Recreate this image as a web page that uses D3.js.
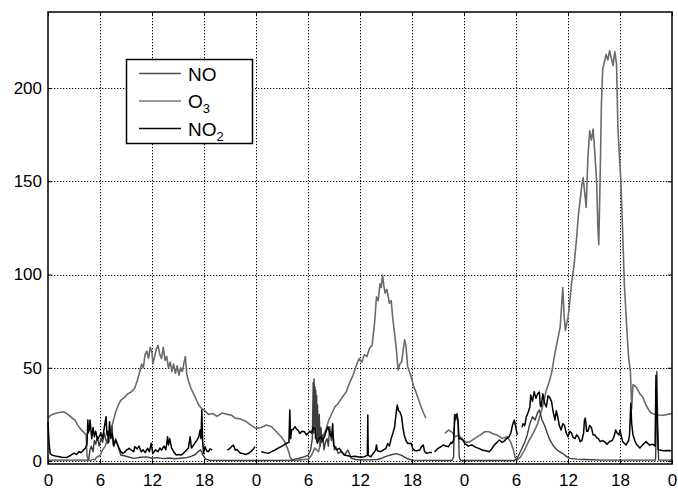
<!DOCTYPE html>
<html>
<head>
<meta charset="utf-8">
<script src="https://cdn.jsdelivr.net/npm/d3@7"></script>
<style>
  body { margin: 0; background: #fff; }
  svg { display: block; }
  text { font-family: "Liberation Sans", Arial, Helvetica, sans-serif; fill: #000; }
</style>
</head>
<body>
<svg id="chart" width="678" height="489"></svg>
<script>
// Hours since start of the three-day record; tick labels show the hour of day.
const xTicks = [0, 6, 12, 18, 24, 30, 36, 42, 48, 54, 60, 66, 72];
const xTickLabels = ["0", "6", "12", "18", "0", "6", "12", "18", "0", "6", "12", "18", "0"];
const yTicks = [0, 50, 100, 150, 200];
const seriesNames = ["NO", "O3", "NO2"];

// [hour, concentration]; null marks missing data.
const o3 = [
  [0,23],[0.3,24.5],[0.8,25.5],[1.3,26],[1.8,26.4],[2.3,25],[2.8,23],[3.1,22],[3.4,19.5],[3.7,17.5],
  [4.1,15.5],[4.4,14],[4.5,3],[4.65,0.5],[4.9,0.3],[5.2,1],[5.4,0.5],[5.6,2],[6.0,3],[6.3,6],
  [6.6,8],[6.9,12],[7.2,15],[7.5,21],[7.8,26],[8.1,30],[8.4,32.5],[8.8,34],[9.2,36],[9.6,37],
  [10.0,39],[10.3,43],[10.6,48],[10.8,52],[11.0,50],[11.2,57],[11.4,59],[11.6,55],[11.8,61],[12.0,58],
  [12.1,52],[12.3,56],[12.5,60],[12.7,62],[12.9,57],[13.1,55],[13.3,61],[13.5,54],[13.7,56],[13.9,50],
  [14.1,53],[14.3,48],[14.5,52],[14.7,47],[14.9,51],[15.1,46],[15.3,50],[15.5,48],[15.7,53],[15.85,56],
  [16.0,47],[16.2,43],[16.5,39],[16.8,36],[17.1,33],[17.4,30],[17.75,28],[18.1,27],[18.5,25],[19.0,25.5],
  [19.5,24],[20.1,25.7],[20.7,25],[21.2,24.5],[21.6,23],[22.2,22.5],[22.9,21],[23.5,19],[24.0,17.5],[24.6,18],
  [25.2,19.3],[25.8,18.4],[26.35,15.7],[26.9,13],[27.3,10.5],[27.7,6],[27.95,2],[28.2,0.5],[28.6,0.3],[29.0,0.5],
  [29.5,0.8],[30.0,1],[30.4,3],[30.8,7],[31.2,5],[31.6,12],[32.0,16],[32.4,22],[32.8,26],[33.1,29],
  [33.5,31],[34.0,34.5],[34.4,37],[34.8,42],[35.2,46],[35.6,51.5],[35.9,55],[36.2,53],[36.5,57],[36.8,56],
  [37.1,60.5],[37.4,62],[37.7,75],[37.9,88],[38.1,86],[38.3,95],[38.45,93],[38.6,99.7],[38.75,94],[38.9,90],
  [39.1,92],[39.4,84.6],[39.6,86],[39.8,75.6],[40.0,68],[40.2,59.5],[40.4,48.8],[40.6,52],[40.8,53],[41.0,60],
  [41.15,65],[41.3,62],[41.5,50.5],[41.7,48],[41.9,45],[42.2,40],[42.5,36.4],[42.9,31],[43.3,26],[43.6,23],
  [43.65,null],
  [45.8,14.8],[46.2,16.6],[46.6,15.5],[47.0,13],[47.4,14],[47.9,11.3],[48.3,10],[48.7,10.4],[49.3,12.3],[49.9,14],
  [50.4,15.7],[50.9,15.7],[51.4,14.5],[51.8,14],[52.4,12.1],[53.0,13],[53.4,10],[53.7,6],[53.9,2],[54.1,0.5],
  [54.5,2],[55.0,6],[55.5,11],[56.0,15],[56.5,20],[57.0,28],[57.5,38],[57.8,42],[58.1,47],[58.5,58],
  [58.8,65],[59.1,72],[59.4,93],[59.55,78],[59.7,70],[60.0,77],[60.2,85],[60.4,95],[60.7,105],[61.0,120],
  [61.2,132],[61.4,140],[61.6,148],[61.75,152],[61.9,145],[62.1,136],[62.2,150],[62.3,163],[62.5,177],[62.7,172],
  [62.9,178],[63.1,165],[63.3,150],[63.45,125],[63.55,116],[63.7,150],[63.85,190],[64.0,210],[64.2,214],[64.4,218],
  [64.6,215],[64.8,220],[65.0,216],[65.2,212],[65.4,219.5],[65.6,213],[65.75,180],[65.9,166],[66.1,150],[66.3,124],
  [66.5,95],[66.8,70],[67.0,55],[67.2,48],[67.35,28],[67.5,41],[67.9,39.5],[68.3,36],[68.6,34.5],[69.0,30],
  [69.5,26],[70.0,25],[70.5,24.7],[71.0,24.5],[71.5,25],[72.0,25.5]
];

const no = [
  [0,0.5],[4.5,0.5],[4.7,1],[4.85,6],[5.0,8],[5.2,5],[5.35,11],[5.5,9],[5.7,13],[5.9,8],
  [6.1,12],[6.3,10],[6.5,15],[6.7,11],[6.9,9.5],[7.1,16],[7.25,13.9],[7.4,19],[7.5,9],[7.6,7.7],
  [7.8,12],[8.0,9.5],[8.2,6],[8.4,3.2],[8.8,2.8],[9.2,2.3],[9.9,1.4],[10.7,2],[11.4,2.2],[12,1.5],
  [12.6,1.8],[13.3,1.3],[14,1.6],[14.6,1.2],[15.3,1.5],[16,1.8],[16.5,2.5],[17,3.5],[17.3,5],[17.6,6],
  [17.9,3],[18.2,1],[18.6,0.4],[24,0.3],[28,0.4],[28.5,1],[29,1.5],[29.5,2.2],[30,3],[30.3,6],
  [30.5,12],[30.6,42],[30.65,15],[30.7,44],[30.75,20],[30.8,40],[30.85,12],[30.9,38],[30.95,18],[31,35],
  [31.05,10],[31.1,30],[31.2,12],[31.3,25],[31.4,8],[31.5,18],[31.6,10],[31.7,14],[31.85,6],[32,10],
  [32.2,12],[32.35,8],[32.5,18.4],[32.7,11],[32.9,14],[33.05,6],[33.2,7.7],[33.5,4],[33.8,5],[34.2,3.2],
  [34.6,5.9],[35,1.4],[35.5,0.8],[36,0.7],[37,0.6],[38,0.8],[38.5,1.5],[39,2.5],[39.5,3.2],[40.2,4],
  [40.8,3],[41.5,1.2],[42,0.5],[46.6,0.3],[46.8,2],[46.9,25],[47.05,22],[47.2,25.5],[47.35,20],[47.45,2],
  [47.6,0.3],[53.8,0.3],[54.1,1],[54.5,5],[55.0,10],[55.3,14],[55.6,20],[55.9,23.8],[56.2,22],[56.5,26],
  [56.7,27.3],[57.0,22],[57.3,19],[57.6,15],[57.9,11.3],[58.2,9],[58.5,7],[59.0,5],[59.4,4],[59.8,2.5],
  [60.2,1.4],[61,1],[62,0.8],[64,0.5],[70.1,0.5],[70.15,10],[70.25,48],[70.35,20],[70.45,0.5],[72,0.5]
];

const no2 = [
  [0,21],[0.12,10],[0.25,4],[0.44,3.2],[1.0,2.5],[1.6,2],[2.2,1.9],[2.6,3],[3.0,4.2],[3.3,3.5],
  [3.55,5],[3.8,4.5],[4.3,6.8],[4.5,9],[4.6,22],[4.65,15],[4.75,16.6],[4.85,22],[4.95,17],[5.05,12],
  [5.2,18],[5.35,13],[5.5,16],[5.7,11.3],[5.9,13],[6.1,15],[6.3,12],[6.5,18],[6.7,23.8],[6.8,14],
  [6.9,16],[7.0,10],[7.1,21],[7.25,12],[7.4,14.8],[7.6,8.6],[7.8,11],[8.0,9],[8.2,7],[8.4,5],
  [8.6,4.2],[8.8,4.5],[9.1,6],[9.35,6.8],[9.6,5.9],[9.9,5],[10.0,7.7],[10.3,6.5],[10.5,8],[10.75,5],
  [11.0,6],[11.2,4.5],[11.5,6.8],[11.7,5],[11.9,9.5],[12.1,4],[12.4,6],[12.7,5],[12.9,7],[13.1,5.9],
  [13.4,8],[13.6,6],[13.8,13],[13.9,8.6],[14.05,12],[14.25,7],[14.5,5],[14.8,3.2],[15.1,3.5],[15.4,3.2],
  [15.7,4.5],[16.0,5.9],[16.2,7],[16.4,13],[16.55,7],[16.8,8.6],[17.0,10],[17.2,11.3],[17.4,13],[17.55,16.6],
  [17.65,12],[17.75,27.3],[17.85,10],[17.95,4.2],[18.1,7.7],[18.3,5.5],[18.5,5],[18.7,6.5],[18.95,5.9],[19.0,null],
  [20.7,5.9],[21.0,6.8],[21.25,8],[21.4,8.6],[21.6,5.9],[21.8,6.2],[22.2,4.2],[22.4,4.1],[22.8,3.5],[23.1,4],
  [23.4,5],[23.7,6.5],[23.9,7.7],[24.0,null],
  [24.6,5],[25.0,4.5],[25.4,4.1],[25.8,5],[26.2,5.9],[26.6,7],[26.9,7.7],[27.2,8.5],[27.5,9.5],[27.8,10],
  [27.9,27.3],[28.0,12],[28.1,16.6],[28.3,17],[28.5,18.4],[28.7,17],[28.85,16.6],[29.05,14.8],[29.3,16],[29.6,15.7],
  [29.8,14],[30.0,14.8],[30.2,16],[30.4,15],[30.6,18],[30.8,17.5],[30.95,12],[31.1,9.5],[31.3,12],[31.5,13],
  [31.7,11],[31.9,13],[32.1,16],[32.3,18.4],[32.5,15],[32.7,13],[32.85,20],[32.95,9],[33.05,7.7],[33.3,6],
  [33.6,6.8],[33.9,5],[34.2,3.2],[34.6,2.8],[35.0,2.3],[35.4,2.5],[35.7,2.3],[36.1,2],[36.5,2.3],[36.85,3],
  [36.9,24.7],[36.95,3],[37.25,2.3],[37.5,4],[37.8,5.7],[37.9,8.6],[38.0,5.5],[38.4,5],[38.7,6],[39.0,6.8],
  [39.2,9.4],[39.4,8],[39.6,12.1],[39.8,15],[40.0,18.4],[40.15,25],[40.3,30],[40.45,27],[40.6,26.4],[40.8,23.8],
  [40.95,18],[41.1,14],[41.3,11],[41.5,9.4],[41.9,9.5],[42.1,6.5],[42.3,5.7],[42.6,5.5],[42.9,5.9],[43.1,7.7],
  [43.3,8.6],[43.45,5],[43.7,4.1],[44.0,4.5],[44.3,4.5],[44.35,null],
  [44.6,5],[45.0,6.8],[45.3,7.5],[45.6,8.6],[45.9,8],[46.2,7.7],[46.5,10],[46.6,9.4],[46.8,11],[46.95,24],
  [47.1,25],[47.3,22],[47.4,12],[47.6,12.1],[47.9,11],[48.1,9.4],[48.5,8],[48.9,8.6],[49.3,7.5],[49.7,6.8],
  [50.1,5.9],[50.5,5.5],[50.9,5],[51.2,6.5],[51.5,8.6],[51.8,10],[52.1,11.3],[52.4,10],[52.6,10.5],[52.9,12],
  [53.2,13],[53.4,15],[53.6,19.3],[53.8,22],[54.0,17.5],[54.15,14],[54.2,null],
  [54.7,18],[54.8,20],[55.0,19],[55.2,23.8],[55.4,26],[55.6,29],[55.7,35.4],[55.9,32],[56.1,37.2],[56.3,33.6],
  [56.5,36],[56.7,37],[56.8,30],[56.9,29],[57.1,36],[57.3,31],[57.5,29],[57.7,35],[57.9,34],[58.1,32],
  [58.3,26],[58.5,22],[58.65,27],[58.8,24],[59.0,19],[59.2,16.6],[59.4,20],[59.6,19],[59.8,15],[60.0,13],
  [60.2,16],[60.4,15],[60.6,12.5],[60.8,12],[61.0,14],[61.2,13],[61.4,10.4],[61.6,11],[61.8,15],[61.9,22],
  [62.0,23],[62.15,16],[62.3,16],[62.5,19],[62.7,18],[62.9,14],[63.1,14],[63.3,12.5],[63.5,12],[63.7,10.4],
  [64.0,11],[64.3,10],[64.5,9],[64.8,10.5],[65.1,11],[65.3,13],[65.5,16.6],[65.7,14.8],[65.9,14],[66.0,16.6],
  [66.3,10.4],[66.7,8.6],[67.0,11],[67.1,14],[67.25,31],[67.35,20],[67.5,14],[67.7,11],[67.9,9],[68.3,7],
  [68.6,8.6],[69.0,10.4],[69.4,8.6],[69.8,9],[70.05,8],[70.15,46],[70.3,20],[70.4,6],[70.6,5.9],[71.0,5.5],
  [71.5,5.7],[72.0,5.5]
];

const svg = d3.select("#chart");
const plot = { left: 48, right: 672, top: 12, bottom: 464 };

const x = d3.scaleLinear().domain([0, 72]).range([plot.left, plot.right]);
const y = d3.scaleLinear().domain([-1.6, 240.75]).range([plot.bottom, plot.top]);

// Dotted grid
const grid = svg.append("g").attr("stroke", "#000").attr("stroke-width", 1)
  .attr("stroke-dasharray", "1.3,1.7").attr("fill", "none");
grid.selectAll("line.v").data(xTicks.slice(1, -1)).join("line")
  .attr("class", "v")
  .attr("x1", d => Math.round(x(d)) + 0.5).attr("x2", d => Math.round(x(d)) + 0.5)
  .attr("y1", plot.top).attr("y2", plot.bottom);
grid.selectAll("line.h").data(yTicks).join("line")
  .attr("class", "h")
  .attr("x1", plot.left).attr("x2", plot.right)
  .attr("y1", d => Math.round(y(d)) + 0.5).attr("y2", d => Math.round(y(d)) + 0.5);

// Series
const line = d3.line()
  .defined(d => d[1] !== null)
  .x(d => x(d[0]))
  .y(d => y(d[1]));

const series = [
  { key: "O3", data: o3, color: "#6a6a6a", width: 1.6 },
  { key: "NO", data: no, color: "#3e3e3e", width: 1.4 },
  { key: "NO2", data: no2, color: "#000000", width: 1.5 }
];

svg.append("g").selectAll("path").data(series).join("path")
  .attr("d", d => line(d.data))
  .attr("fill", "none")
  .attr("stroke", d => d.color)
  .attr("stroke-width", d => d.width)
  .attr("stroke-linejoin", "round");

// Inward tick marks on all four sides
const tickLen = 4;
svg.append("g").attr("transform", `translate(0,${plot.bottom})`)
  .call(d3.axisTop(x).tickValues(xTicks).tickSize(tickLen).tickFormat(""))
  .call(g => g.select(".domain").remove());
svg.append("g").attr("transform", `translate(0,${plot.top})`)
  .call(d3.axisBottom(x).tickValues(xTicks).tickSize(tickLen).tickFormat(""))
  .call(g => g.select(".domain").remove());
svg.append("g").attr("transform", `translate(${plot.left},0)`)
  .call(d3.axisRight(y).tickValues(yTicks).tickSize(tickLen).tickFormat(""))
  .call(g => g.select(".domain").remove());
svg.append("g").attr("transform", `translate(${plot.right},0)`)
  .call(d3.axisLeft(y).tickValues(yTicks).tickSize(tickLen).tickFormat(""))
  .call(g => g.select(".domain").remove());

// Tick labels
const xAxis = svg.append("g").attr("transform", `translate(0,${plot.bottom})`)
  .call(d3.axisBottom(x).tickValues(xTicks).tickSize(0).tickPadding(10)
    .tickFormat((d, i) => xTickLabels[i]));
xAxis.select(".domain").remove();
xAxis.selectAll("text").style("font-size", "17px")
  .style("font-family", '"Liberation Sans", Arial, sans-serif');

const yAxis = svg.append("g").attr("transform", `translate(${plot.left},0)`)
  .call(d3.axisLeft(y).tickValues(yTicks).tickSize(0).tickPadding(6));
yAxis.select(".domain").remove();
yAxis.selectAll("text").style("font-size", "17px")
  .style("font-family", '"Liberation Sans", Arial, sans-serif');

// Frame
svg.append("rect")
  .attr("x", plot.left).attr("y", plot.top)
  .attr("width", plot.right - plot.left).attr("height", plot.bottom - plot.top)
  .attr("fill", "none").attr("stroke", "#000").attr("stroke-width", 1.5);

// Legend
const legend = svg.append("g");
legend.append("rect")
  .attr("x", 126.5).attr("y", 59.5).attr("width", 126).attr("height", 84)
  .attr("fill", "#fff").attr("stroke", "#000").attr("stroke-width", 1.5);

const legendColor = { NO: "#4a4a4a", O3: "#7a7a7a", NO2: "#000000" };
const legendRows = legend.selectAll("g.row").data(seriesNames).join("g")
  .attr("class", "row")
  .attr("transform", (d, i) => `translate(0,${73.5 + i * 27.5})`);
legendRows.append("line")
  .attr("x1", 139).attr("x2", 181).attr("y1", 0).attr("y2", 0)
  .attr("stroke", d => legendColor[d]).attr("stroke-width", 1.4);
const legendText = legendRows.append("text")
  .attr("x", 188).attr("y", 7)
  .style("font-size", "19px");
legendText.each(function (d) {
  const t = d3.select(this);
  const m = d.match(/^([A-Z]+)(\d*)$/);
  t.append("tspan").text(m[1]);
  if (m[2]) {
    t.append("tspan").attr("dy", 5).style("font-size", "13px").text(m[2]);
  }
});
</script>
</body>
</html>
